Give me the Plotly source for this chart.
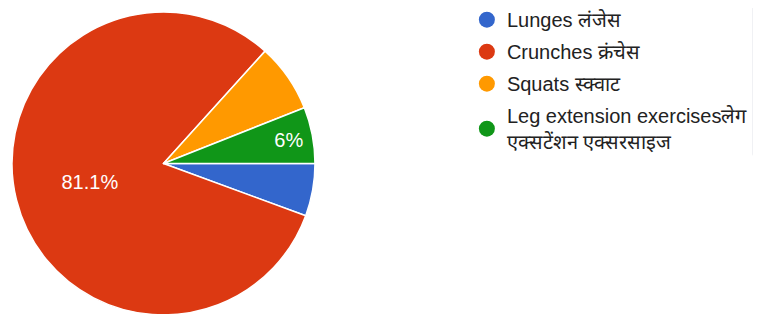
import plotly.graph_objects as go

labels = ["Lunges लंजेस", "Crunches क्रंचेस", "Squats स्क्वाट",
          "Leg extension exercisesलेग<br>एक्सटेंशन एक्सरसाइज"]
values = [5.6, 81.1, 7.3, 6.0]
shown_text = ["", "81.1%", "", "6%"]
colors = ["#3366cc", "#dc3912", "#ff9900", "#109618"]

fig = go.Figure()
fig.add_trace(go.Pie(
    labels=labels, values=values, text=shown_text, texttemplate="%{text}",
    textinfo="text", sort=False, direction="clockwise", rotation=90,
    marker=dict(colors=colors, line=dict(color="white", width=1.5)),
    textfont=dict(color="white", size=20, family="Liberation Sans, Arial"),
    insidetextorientation="horizontal", textposition="inside",
    showlegend=False, hoverinfo="label+percent",
    domain=dict(x=[0.00526, 0.4034], y=[0.0223, 0.9873]),
))
for i, (lab, col) in enumerate(zip(labels, colors)):
    fig.add_trace(go.Scatter(
        x=[None], y=[None], mode="markers", name=lab,
        marker=dict(symbol="circle", size=16, color=col),
        legendgroup=str(i), showlegend=True,
    ))

fig.update_layout(
    width=761, height=314,
    margin=dict(l=0, r=0, t=0, b=0, autoexpand=False),
    paper_bgcolor="white", plot_bgcolor="white",
    xaxis=dict(visible=False), yaxis=dict(visible=False),
    showlegend=True,
    legend=dict(x=0.603, y=1.025, xanchor="left", yanchor="top",
                font=dict(size=20, color="#222222", family="Liberation Sans, Arial"),
                tracegroupgap=3, itemsizing="trace",
                bgcolor="rgba(0,0,0,0)"),
)
fig.write_html("out.html")
